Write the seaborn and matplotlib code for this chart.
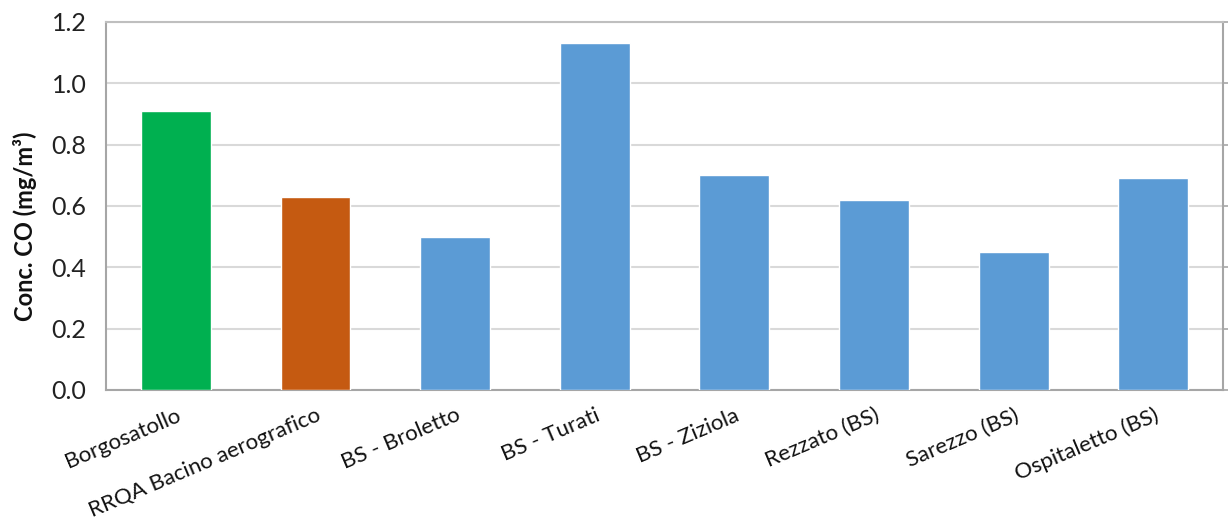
import matplotlib
matplotlib.use("Agg")
import matplotlib.pyplot as plt
import seaborn as sns
import pandas as pd

stations = [
    "Borgosatollo",
    "RRQA Bacino aerografico",
    "BS - Broletto",
    "BS - Turati",
    "BS - Ziziola",
    "Rezzato (BS)",
    "Sarezzo (BS)",
    "Ospitaletto (BS)",
]
co_values = [0.91, 0.63, 0.50, 1.13, 0.70, 0.62, 0.45, 0.69]
bar_colors = ["#00B050", "#C55A11", "#5B9BD5", "#5B9BD5",
              "#5B9BD5", "#5B9BD5", "#5B9BD5", "#5B9BD5"]
y_ticks = [0.0, 0.2, 0.4, 0.6, 0.8, 1.0, 1.2]

sns.set_theme(style="white")
plt.rcParams["font.family"] = ["Lato", "DejaVu Sans"]

df = pd.DataFrame({"station": stations, "co": co_values})

fig = plt.figure(figsize=(12.28, 5.22), dpi=100)
ax = fig.add_axes([0.0863, 0.253, 0.9097, 0.705])

sns.barplot(data=df, x="station", y="co", hue="station",
            palette=bar_colors, width=0.5, saturation=1,
            legend=False, ax=ax, zorder=3)

ax.set_ylim(0, 1.2)
ax.set_xlim(-0.5, len(stations) - 0.5)
ax.set_yticks(y_ticks)
ax.set_yticklabels([f"{v:.1f}" for v in y_ticks], fontsize=18, color="#222222")
ax.yaxis.grid(True, color="#d9d9d9", linewidth=1.5, zorder=0)
ax.set_axisbelow(True)

ax.set_xlabel("")
ax.set_ylabel("Conc. CO (mg/m³)", fontsize=17, fontweight="bold",
              color="#111111", va="center")
ax.yaxis.set_label_coords(-0.0725, 0.446)

ax.set_xticks(range(len(stations)))
ax.set_xticklabels(stations, rotation=23, ha="right",
                   rotation_mode="anchor", fontsize=16, color="#111111")
ax.tick_params(axis="x", length=0, pad=11)
ax.tick_params(axis="y", left=False, right=True, length=4, width=1.2,
               color="#a6a6a6", pad=10)
ax.tick_params(axis="y", labelright=False)

for side in ["left", "bottom", "top", "right"]:
    ax.spines[side].set_visible(True)
    ax.spines[side].set_color("#a6a6a6")
    ax.spines[side].set_linewidth(1.5)
ax.spines["top"].set_color("#bfbfbf")

fig.savefig("out.png", dpi=100, facecolor="white")
